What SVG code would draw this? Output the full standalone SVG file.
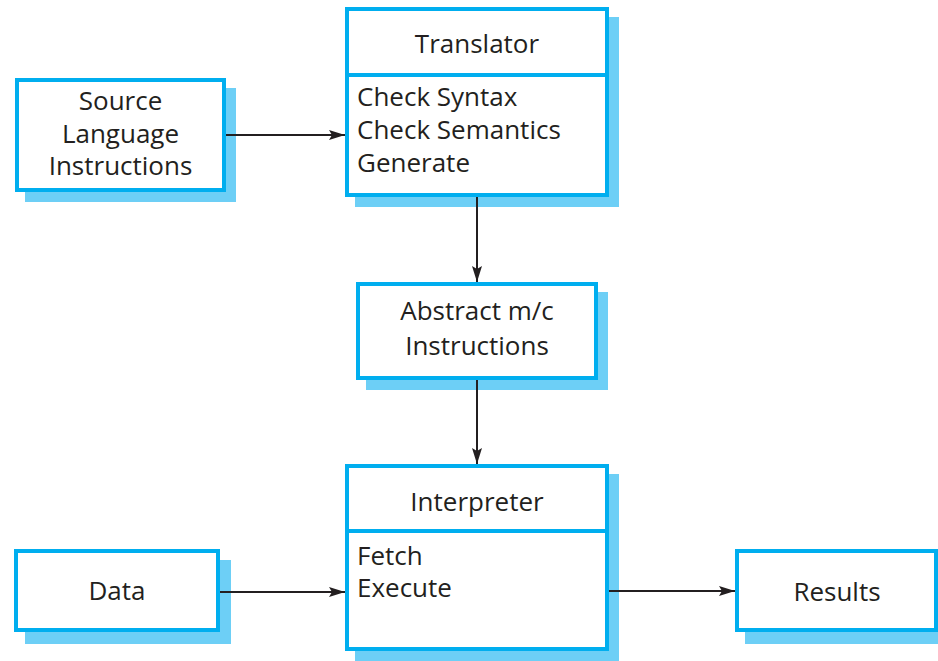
<svg xmlns="http://www.w3.org/2000/svg" width="938" height="661" viewBox="0 0 938 661">
  <style>
    .shadow { fill: #6DCFF6; stroke: none; }
    .box { fill: #FFFFFF; stroke: #00AEEF; stroke-width: 4; }
    .divider { stroke: #00AEEF; stroke-width: 4; fill: none; }
    .label { font-family: "Open Sans", "Noto Sans", "Liberation Sans", sans-serif; font-size: 26px; fill: #231F20; }
    .mid { text-anchor: middle; }
    .edge { stroke: #231F20; stroke-width: 2; fill: none; marker-end: url(#arrow); }
  </style>
  <defs>
    <marker id="arrow" markerUnits="userSpaceOnUse" markerWidth="18" markerHeight="12" refX="16" refY="6" orient="auto">
      <path d="M0,1 L16,6 L0,11 L3,6 Z" fill="#231F20"/>
    </marker>
  </defs>

  <rect width="938" height="661" fill="#FFFFFF"/>

  <g id="source">
    <rect class="shadow" x="25" y="88" width="211" height="114"/>
    <rect class="box" x="17" y="80" width="207" height="110"/>
    <text class="label mid" x="120.5" y="110">Source</text>
    <text class="label mid" x="120.5" y="143">Language</text>
    <text class="label mid" x="120.5" y="175">Instructions</text>
  </g>

  <g id="translator">
    <rect class="shadow" x="355" y="17" width="264" height="190"/>
    <rect class="box" x="347" y="9" width="260" height="186"/>
    <line class="divider" x1="347" y1="75" x2="607" y2="75"/>
    <text class="label mid" x="477" y="53">Translator</text>
    <text class="label" x="357" y="106">Check Syntax</text>
    <text class="label" x="357" y="139">Check Semantics</text>
    <text class="label" x="357" y="172">Generate</text>
  </g>

  <g id="abstract">
    <rect class="shadow" x="366" y="292" width="242" height="98"/>
    <rect class="box" x="358" y="284" width="238" height="94"/>
    <text class="label mid" x="477" y="320">Abstract m/c</text>
    <text class="label mid" x="477" y="355">Instructions</text>
  </g>

  <g id="interpreter">
    <rect class="shadow" x="355" y="474" width="264" height="187"/>
    <rect class="box" x="347" y="466" width="260" height="183"/>
    <line class="divider" x1="347" y1="531" x2="607" y2="531"/>
    <text class="label mid" x="477" y="511">Interpreter</text>
    <text class="label" x="357" y="565">Fetch</text>
    <text class="label" x="357" y="597">Execute</text>
  </g>

  <g id="data">
    <rect class="shadow" x="25" y="560" width="206" height="84"/>
    <rect class="box" x="16" y="551" width="202" height="79"/>
    <text class="label mid" x="117" y="600">Data</text>
  </g>

  <g id="results">
    <rect class="shadow" x="745" y="560" width="203" height="84"/>
    <rect class="box" x="737" y="551" width="199" height="79"/>
    <text class="label mid" x="837" y="601">Results</text>
  </g>

  <g id="connectors">
    <line class="edge" x1="226" y1="135" x2="345" y2="135"/>
    <line class="edge" x1="477" y1="197" x2="477" y2="282"/>
    <line class="edge" x1="477" y1="380" x2="477" y2="464"/>
    <line class="edge" x1="220" y1="592" x2="345" y2="592"/>
    <line class="edge" x1="609" y1="591" x2="735" y2="591"/>
  </g>
</svg>
